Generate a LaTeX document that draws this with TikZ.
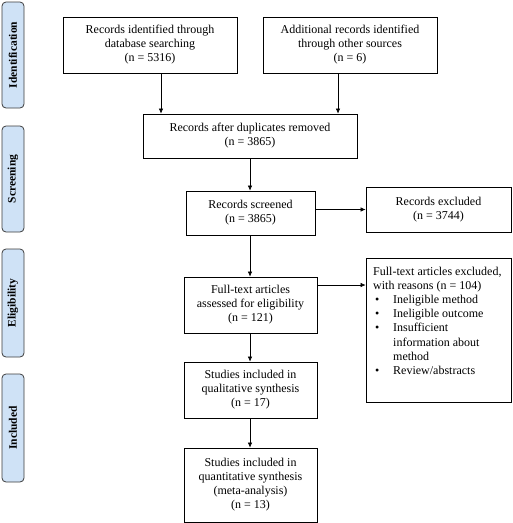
\documentclass[tikz,border=0pt]{standalone}
\usepackage{fontspec}
\setmainfont{Liberation Serif}
\usetikzlibrary{arrows.meta,calc}
\definecolor{stagefill}{RGB}{207,226,246}
\definecolor{stageline}{RGB}{60,60,60}
\begin{document}
\begin{tikzpicture}[x=1pt,y=-1pt,
  box/.style={draw=black,line width=0.8pt,align=center,inner sep=0pt,
    font=\fontsize{12}{14}\selectfont},
  stage/.style={draw=stageline,fill=stagefill,rounded corners=4pt,line width=0.8pt,
    minimum width=106pt,minimum height=22pt,rotate=90,inner sep=0pt,
    font=\bfseries\fontsize{11.5}{13}\selectfont},
  arr/.style={-{Latex[length=5pt,width=4.5pt]},line width=0.6pt}]
\useasboundingbox (0,0) rectangle (513,523);
% stage labels
\node[stage] (sid) at (13,55) {Identification};
\node[stage] (ssc) at (13,179) {Screening};
\node[stage,minimum width=108pt] (sel) at (13,303) {Eligibility};
\node[stage,minimum width=108pt] (sin) at (13,428) {Included};
% boxes
\node[box,minimum width=174pt,minimum height=56pt] (b1) at (150,45)
  {Records identified through\\database searching\\(n = 5316)};
\node[box,minimum width=174pt,minimum height=56pt] (b2) at (350,45)
  {Additional records identified\\through other sources\\(n = 6)};
\node[box,minimum width=214pt,minimum height=44pt] (b3) at (250,136)
  {Records after duplicates removed\\(n = 3865)};
\node[box,minimum width=129pt,minimum height=44pt] (b4) at (250.5,213)
  {Records screened\\(n = 3865)};
\node[box,minimum width=145pt,minimum height=45pt] (b5) at (438.5,209.5)
  {Records excluded\\(n = 3744)};
\node[box,minimum width=133pt,minimum height=56pt] (b6) at (250.5,305)
  {Full-text articles\\assessed for eligibility\\(n = 121)};
\node[box,minimum width=145pt,minimum height=144pt] (b7) at (438.5,330) {};
\node[anchor=north west,align=left,inner sep=0pt,font=\fontsize{12}{14.1}\selectfont]
  (b7t) at (373,267)
  {Full-text articles excluded,\\with reasons (n = 104)\\
   \makebox[20pt][l]{\hspace{2pt}\textbullet}Ineligible method\\
   \makebox[20pt][l]{\hspace{2pt}\textbullet}Ineligible outcome\\
   \makebox[20pt][l]{\hspace{2pt}\textbullet}Insufficient\\
   \hspace*{20pt}information about\\
   \hspace*{20pt}method\\
   \makebox[20pt][l]{\hspace{2pt}\textbullet}Review/abstracts};
\node[box,minimum width=133pt,minimum height=56pt] (b8) at (250.5,390)
  {Studies included in\\qualitative synthesis\\(n = 17)};
\node[box,minimum width=133pt,minimum height=74pt] (b9) at (250.5,485)
  {Studies included in\\quantitative synthesis\\(meta-analysis)\\(n = 13)};
% connectors
\draw[arr] ([xshift=11pt]b1.south) -- ([xshift=11pt]b1.south |- b3.north);
\draw[arr] ([xshift=-12pt]b2.south) -- ([xshift=-12pt]b2.south |- b3.north);
\draw[arr] (b3.south) -- (b3.south |- b4.north);
\draw[arr] (b4.east |- b5.west) -- (b5.west);
\draw[arr] ([xshift=-0.5pt]b4.south) -- ([xshift=-0.5pt]b4.south |- b6.north);
\draw[arr] ([yshift=20pt]b6.east) -- ([yshift=20pt]b6.east -| b7.west);
\draw[arr] ([xshift=-0.5pt]b6.south) -- ([xshift=-0.5pt]b6.south |- b8.north);
\draw[arr] ([xshift=-0.5pt]b8.south) -- ([xshift=-0.5pt]b8.south |- b9.north);
\end{tikzpicture}
\end{document}
